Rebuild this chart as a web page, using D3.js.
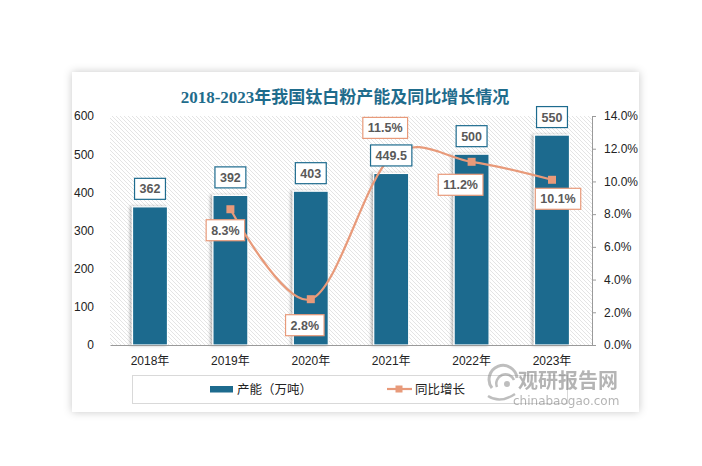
<!DOCTYPE html>
<html><head><meta charset="utf-8">
<script src="https://cdn.jsdelivr.net/npm/d3@7/dist/d3.min.js"></script>
<style>
html,body{margin:0;padding:0;background:#fff;}
svg{display:block;}
</style></head>
<body>
<svg id="c" width="702" height="466"></svg>
<script>
const categories = ["2018年","2019年","2020年","2021年","2022年","2023年"];
const capacity = [362, 392, 403, 449.5, 500, 550];
const capacityLabels = ["362","392","403","449.5","500","550"];
const growth = [null, 0.083, 0.028, 0.115, 0.112, 0.101];
const growthLabels = ["", "8.3%", "2.8%", "11.5%", "11.2%", "10.1%"];
const leftTicks = [0,100,200,300,400,500,600];
const rightTicks = [0,0.02,0.04,0.06,0.08,0.10,0.12,0.14];
const title = "2018-2023年我国钛白粉产能及同比增长情况";
const legendNames = ["产能（万吨）","同比增长"];

// layout / styling
const barColor = "#1d6b8e", lineColor = "#e89a7a", txt = "#595959";
const lineLabelOffsets = [[0,0],[-5,21],[-6,26],[-6,-29],[-11,23],[6,19]];
const plot = {l:110, r:592, t:116, b:345};

const svg = d3.select("#c");
const defs = svg.append("defs");
const fCard = defs.append("filter").attr("id","cardShadow").attr("x","-10%").attr("y","-10%").attr("width","120%").attr("height","120%");
fCard.append("feDropShadow").attr("dx",0).attr("dy",0).attr("stdDeviation",4).attr("flood-color","#000").attr("flood-opacity",0.22);
const fBar = defs.append("filter").attr("id","barShadow").attr("x","-30%").attr("y","-10%").attr("width","160%").attr("height","120%");
fBar.append("feDropShadow").attr("dx",-2).attr("dy",0).attr("stdDeviation",1.4).attr("flood-color","#000").attr("flood-opacity",0.28);
const pat = defs.append("pattern").attr("id","hatch").attr("patternUnits","userSpaceOnUse").attr("width",4).attr("height",4);
pat.append("rect").attr("width",4).attr("height",4).attr("fill","#fff");
pat.append("path").attr("d","M-1,-1 L5,5 M3,-1 L5,1 M-1,3 L1,5").attr("stroke","#d9d9d9").attr("stroke-width",0.7);

// card
svg.append("rect").attr("x",72).attr("y",72).attr("width",567).attr("height",340).attr("fill","#fff").attr("filter","url(#cardShadow)");

// title
svg.append("text").attr("x",345).attr("y",103).attr("text-anchor","middle")
  .attr("font-family","'Liberation Serif','Noto Sans CJK SC',serif").attr("font-weight","bold")
  .attr("font-size",17).attr("fill","#1f6c8c").text(title);

const x = d3.scaleBand().domain(categories).range([plot.l, plot.r]).paddingInner(0.565).paddingOuter(0.28);
const xc = d => x(d) + x.bandwidth()/2;
const yL = d3.scaleLinear().domain([0,600]).range([plot.b, plot.t]);
const yR = d3.scaleLinear().domain([0,0.14]).range([plot.b, plot.t]);

// plot background
svg.append("rect").attr("x",plot.l).attr("y",plot.t).attr("width",plot.r-plot.l).attr("height",plot.b-plot.t).attr("fill","url(#hatch)");

// bars
svg.append("g").selectAll("rect").data(categories).join("rect")
  .attr("x", d => x(d)).attr("width", x.bandwidth())
  .attr("y", (d,i) => yL(capacity[i])).attr("height", (d,i) => plot.b - yL(capacity[i]))
  .attr("fill", barColor).attr("stroke","#fff").attr("stroke-width",1.2).attr("filter","url(#barShadow)");

// axes
const font = "'Liberation Sans','Noto Sans CJK SC',sans-serif";
const gL = svg.append("g").attr("transform",`translate(${plot.l},0)`)
  .call(d3.axisLeft(yL).tickValues(leftTicks).tickSize(0).tickPadding(16));
gL.select(".domain").remove();
gL.selectAll("text").attr("font-family",font).attr("font-size",12).attr("fill","#222");

const gR = svg.append("g").attr("transform",`translate(${plot.r},0)`)
  .call(d3.axisRight(yR).tickValues(rightTicks).tickFormat(d3.format(".1%")).tickSize(4).tickPadding(8));
gR.select(".domain").attr("stroke","#9a9a9a");
gR.selectAll(".tick line").attr("stroke","#9a9a9a");
gR.selectAll("text").attr("font-family",font).attr("font-size",12).attr("fill","#222");

const gX = svg.append("g").attr("transform",`translate(0,${plot.b})`)
  .call(d3.axisBottom(x).tickSize(0).tickPadding(11));
gX.select(".domain").attr("stroke","#9a9a9a").attr("stroke-width",1.2);
gX.selectAll("text").attr("font-family",font).attr("font-size",12).attr("fill","#222");

// line
const pts = categories.map((c,i)=>({c, v:growth[i], i})).filter(d=>d.v!==null);
const line = d3.line().x(d=>xc(d.c)).y(d=>yR(d.v)).curve(d3.curveCardinal.tension(0));
svg.append("path").attr("d", line(pts)).attr("fill","none").attr("stroke",lineColor).attr("stroke-width",2.2);
svg.append("g").selectAll("rect").data(pts).join("rect")
  .attr("x", d=>xc(d.c)-4).attr("y", d=>yR(d.v)-4).attr("width",8).attr("height",8).attr("fill",lineColor);

// label helper
function boxLabel(g, cx, cy, text, stroke){
  const t = g.append("text").attr("x",cx).attr("y",cy+4.5).attr("text-anchor","middle")
    .attr("font-family",font).attr("font-weight","bold").attr("font-size",12.5).attr("fill",txt).text(text);
  const bb = t.node().getBBox();
  g.insert("rect","text").attr("x",cx - bb.width/2 - 5).attr("y",cy-10.5).attr("width",bb.width+10).attr("height",21)
    .attr("fill","#fff").attr("stroke",stroke).attr("stroke-width",1.2);
}
// bar labels
categories.forEach((c,i)=>{
  boxLabel(svg.append("g"), xc(c), yL(capacity[i]) - 18, capacityLabels[i], barColor);
});
// line labels
pts.forEach(d=>{
  const o = lineLabelOffsets[d.i];
  boxLabel(svg.append("g"), xc(d.c)+o[0], yR(d.v)+o[1], growthLabels[d.i], lineColor);
});

// legend
svg.append("rect").attr("x",132.5).attr("y",375.5).attr("width",435).attr("height",28).attr("fill","#fff").attr("stroke","#d9d9d9");
svg.append("rect").attr("x",210).attr("y",386).attr("width",23).attr("height",6.5).attr("fill",barColor);
svg.append("text").attr("x",237).attr("y",394).attr("font-family",font).attr("font-size",12.5).attr("fill","#222").text(legendNames[0]);
svg.append("line").attr("x1",387).attr("x2",412).attr("y1",389).attr("y2",389).attr("stroke",lineColor).attr("stroke-width",2.2);
svg.append("rect").attr("x",395.5).attr("y",385.5).attr("width",7).attr("height",7).attr("fill",lineColor);
svg.append("text").attr("x",415).attr("y",394).attr("font-family",font).attr("font-size",12.5).attr("fill","#222").text(legendNames[1]);

// watermark
const wm = svg.append("g").attr("opacity",0.55);
wm.append("path").attr("d","M492,388 A14,14 0 1 1 517,378").attr("fill","none").attr("stroke","#8a8a8a").attr("stroke-width",3);
wm.append("path").attr("d","M497,387 A9,9 0 1 1 514,380").attr("fill","none").attr("stroke","#8a8a8a").attr("stroke-width",2.5);
wm.append("path").attr("d","M488,396 Q500,404 515,394").attr("fill","none").attr("stroke","#8a8a8a").attr("stroke-width",2.5);
wm.append("circle").attr("cx",507).attr("cy",384).attr("r",3).attr("fill","#8a8a8a");
wm.append("text").attr("x",518).attr("y",388).attr("font-family","'Noto Sans CJK SC',sans-serif").attr("font-weight","bold")
  .attr("font-size",20).attr("fill","#777").text("观研报告网");
wm.append("text").attr("x",513).attr("y",405).attr("font-family","'DejaVu Sans',sans-serif")
  .attr("font-size",12).attr("fill","#777").text("chinabaogao.com");
</script>
</body></html>
